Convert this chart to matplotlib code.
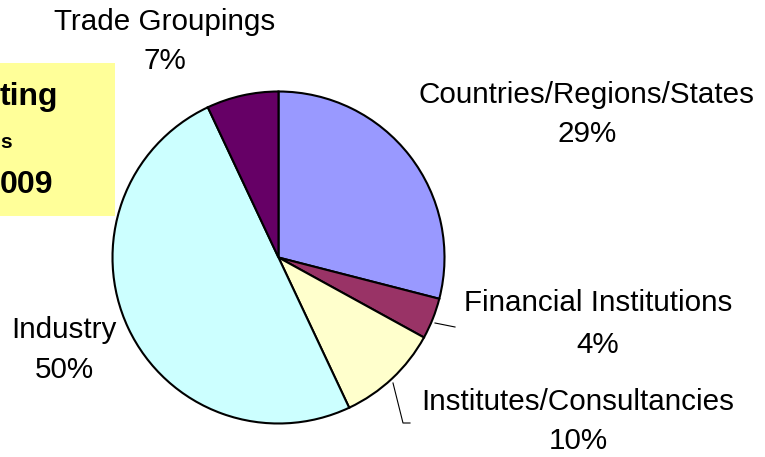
import matplotlib
matplotlib.use("Agg")
import matplotlib.pyplot as plt
import matplotlib.patches as patches

# Data
categories = ["Countries/Regions/States", "Financial Institutions",
              "Institutes/Consultancies", "Industry", "Trade Groupings"]
shares = [29, 4, 10, 50, 7]
colors = ["#9999FF", "#993366", "#FFFFCC", "#CCFFFF", "#660066"]

# Partially visible title box text (cut off at the left edge)
box_lines = ["ting", "s", "009"]

W, H = 765, 457
plt.rcParams["font.family"] = ["Liberation Sans", "DejaVu Sans"]

fig = plt.figure(figsize=(W / 100, H / 100), dpi=100)
ax = fig.add_axes([0, 0, 1, 1])


def py(y):
    # image pixel row -> data y
    return H - y


# yellow title box
ax.add_patch(patches.Rectangle((-5, py(216)), 120, 153, facecolor="#FFFF99",
                               edgecolor="none", zorder=0))
ax.text(58, py(97), box_lines[0], ha="right", va="center", fontsize=23,
        fontweight="bold")
ax.text(0, py(143), box_lines[1], ha="left", va="center", fontsize=15,
        fontweight="bold")
ax.text(53, py(185), box_lines[2], ha="right", va="center", fontsize=23,
        fontweight="bold")

# pie
ax.pie(shares, colors=colors, startangle=90, counterclock=False,
       center=(278.5, py(257.5)), radius=166, frame=True,
       wedgeprops=dict(edgecolor="black", linewidth=1.5))
ax.set_xlim(0, W)
ax.set_ylim(0, H)
ax.axis("off")

# label positions (pixel coords of name line and percent line)
label_pos = [(587, 95, 134), (598, 303, 345), (578, 402, 441),
             (64, 330, 370), (165, 22, 61)]
for name, val, (x, y1, y2) in zip(categories, shares, label_pos):
    ax.text(x, py(y1), name, ha="center", va="center", fontsize=21.3)
    ax.text(x, py(y2), f"{val}%", ha="center", va="center", fontsize=21.3)

# leader lines
ax.plot([435, 455], [py(323), py(327)], color="black", lw=0.8)
ax.plot([393, 403, 410], [py(383), py(423), py(423)], color="black", lw=0.8)

fig.savefig("out.png", dpi=100)
